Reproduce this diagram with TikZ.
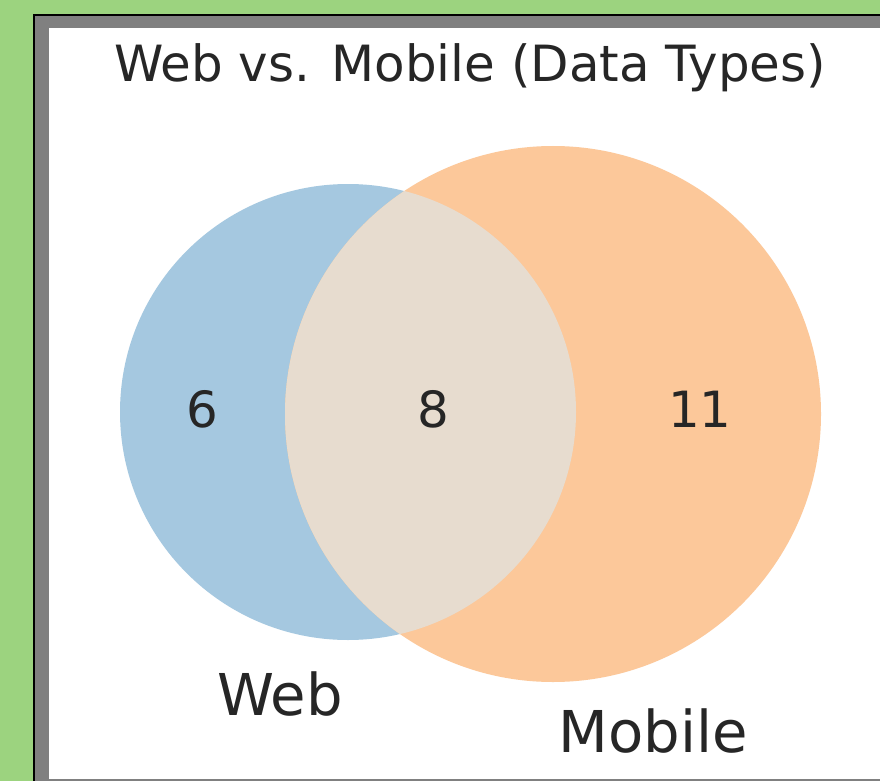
\documentclass[tikz,border=0pt]{standalone}
\usepackage{fontspec}
\setmainfont{DejaVu Sans}
\usetikzlibrary{positioning}
\definecolor{bggreen}{HTML}{9CD37F}
\definecolor{framegray}{HTML}{808080}
\definecolor{webblue}{HTML}{A5C8E0}
\definecolor{mobileorange}{HTML}{FCC89A}
\definecolor{bothbeige}{HTML}{E7DCCF}
\definecolor{textgray}{HTML}{262626}
\tikzset{
    titletext/.style={text=textgray, inner sep=0pt, anchor=base, font=\fontsize{35.5}{40}\selectfont},
    counttext/.style={text=textgray, inner sep=0pt, anchor=base, font=\fontsize{35.5}{40}\selectfont},
    settext/.style={text=textgray, inner sep=0pt, anchor=base, font=\fontsize{41}{46}\selectfont}
}

\begin{document}
\begin{tikzpicture}[x=0.025cm,y=-0.025cm]
    % 円の半径
    \def\Rw{228}
    \def\Rm{268}

    \useasboundingbox (0,0) rectangle (880,781);
    \clip (0,0) rectangle (880,781);

    % 背景と枠
    \fill[bggreen] (0,0) rectangle (880,781);
    \fill[black] (33,14) rectangle (900,800);
    \fill[framegray] (35,16) rectangle (900,800);
    \fill[white] (49,28) rectangle (900,779);

    % 円
    \coordinate (web) at (348,412);
    \coordinate (mobile) at (553,414);
    \fill[webblue] (web) circle[radius=\Rw];
    \fill[mobileorange] (mobile) circle[radius=\Rm];

    % 共通部分
    \begin{scope}
        \clip (web) circle[radius=\Rw];
        \fill[bothbeige] (mobile) circle[radius=\Rm];
    \end{scope}

    % タイトル
    \node[titletext] (title) at (470,82) {Web vs. Mobile (Data Types)};

    % 要素数
    \node[counttext] (onlyweb) at (202,427) {6};
    \node[counttext] (both) at (433,427) {8};
    \node[counttext] (onlymobile) at (700,427) {11};

    % 集合名
    \node[settext] (weblabel) at (280,715) {Web};
    \node[settext] (mobilelabel) at (653,752) {Mobile};
\end{tikzpicture}
\end{document}
